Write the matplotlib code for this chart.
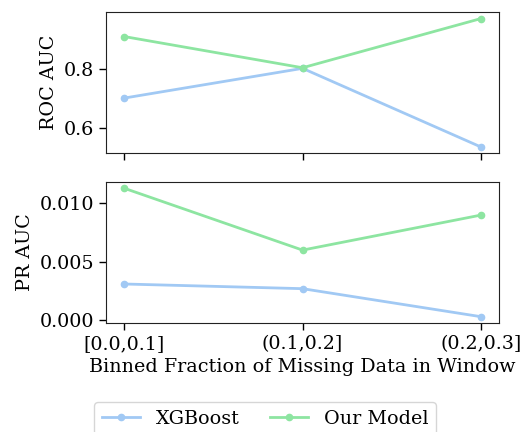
import numpy as np
import matplotlib
matplotlib.use("Agg")
import matplotlib.pyplot as plt

# bins of missing-data fraction
bins = ["[0.0,0.1]", "(0.1,0.2]", "(0.2,0.3]"]

roc_xgb = [0.700, 0.801, 0.534]
roc_ours = [0.909, 0.803, 0.970]

pr_xgb = [0.0031, 0.0027, 0.0003]
pr_ours = [0.0113, 0.0060, 0.0090]

blue = "#a1c9f4"
green = "#8de5a1"

plt.rcParams["font.family"] = "DejaVu Serif"
plt.rcParams["font.size"] = 13.8

fig, (ax1, ax2) = plt.subplots(2, 1, figsize=(5.23, 4.32), dpi=100, sharex=True)
fig.subplots_adjust(left=0.203, right=0.954, top=0.972, bottom=0.252, hspace=0.2)

x = np.arange(len(bins))
for ax, yx, yo, lab in [(ax1, roc_xgb, roc_ours, "ROC AUC"), (ax2, pr_xgb, pr_ours, "PR AUC")]:
    ax.plot(x, yx, "-o", color=blue, lw=2, ms=4.5, label="XGBoost")
    ax.plot(x, yo, "-o", color=green, lw=2, ms=4.5, label="Our Model")
    ax.set_ylabel(lab)
    ax.tick_params(length=5, width=1)
    for s in ax.spines.values():
        s.set_color("#222222")

ax1.set_yticks([0.6, 0.8])
ax2.set_yticks([0.0, 0.005, 0.010])
ax2.set_xticks(x)
ax2.set_xticklabels(bins)
ax2.set_xlabel("Binned Fraction of Missing Data in Window")

handles, labels = ax1.get_legend_handles_labels()
fig.legend(handles, labels, loc="upper center", bbox_to_anchor=(0.507, 0.092),
           ncol=2, frameon=True, columnspacing=1.6, handlelength=2.0)

fig.savefig("out.png", dpi=100)
